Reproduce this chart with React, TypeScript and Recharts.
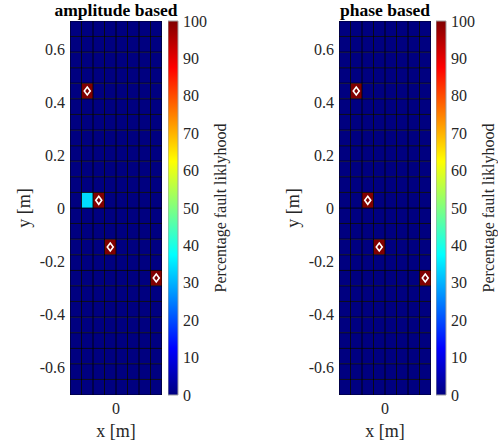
import { ComposedChart, XAxis, YAxis, ReferenceArea, ReferenceLine, Scatter, Bar } from 'recharts'

const xCenters = [-0.175, -0.125, -0.075, -0.025, 0.025, 0.075, 0.125, 0.175]
const yCenters = [
  0.676, 0.617, 0.558, 0.5, 0.441, 0.382, 0.323, 0.264, 0.206, 0.147, 0.088, 0.029,
  -0.029, -0.088, -0.147, -0.206, -0.264, -0.323, -0.382, -0.441, -0.5, -0.558, -0.617, -0.676,
]
const cellW = 0.05
const cellH = 0.05875

const xTicks = [0]
const yTicks = [-0.6, -0.4, -0.2, 0, 0.2, 0.4, 0.6]
const cbTicks = [0, 10, 20, 30, 40, 50, 60, 70, 80, 90, 100]
const cbData = [{ name: 'scale', value: 100 }]

// percentage per cell, rows top -> bottom, columns left -> right
const amplitudeValues = [
  [0, 0, 0, 0, 0, 0, 0, 0],
  [0, 0, 0, 0, 0, 0, 0, 0],
  [0, 0, 0, 0, 0, 0, 0, 0],
  [0, 0, 0, 0, 0, 0, 0, 0],
  [0, 100, 0, 0, 0, 0, 0, 0],
  [0, 0, 0, 0, 0, 0, 0, 0],
  [0, 0, 0, 0, 0, 0, 0, 0],
  [0, 0, 0, 0, 0, 0, 0, 0],
  [0, 0, 0, 0, 0, 0, 0, 0],
  [0, 0, 0, 0, 0, 0, 0, 0],
  [0, 0, 0, 0, 0, 0, 0, 0],
  [0, 34, 100, 0, 0, 0, 0, 0],
  [0, 0, 0, 0, 0, 0, 0, 0],
  [0, 0, 0, 0, 0, 0, 0, 0],
  [0, 0, 0, 100, 0, 0, 0, 0],
  [0, 0, 0, 0, 0, 0, 0, 0],
  [0, 0, 0, 0, 0, 0, 0, 100],
  [0, 0, 0, 0, 0, 0, 0, 0],
  [0, 0, 0, 0, 0, 0, 0, 0],
  [0, 0, 0, 0, 0, 0, 0, 0],
  [0, 0, 0, 0, 0, 0, 0, 0],
  [0, 0, 0, 0, 0, 0, 0, 0],
  [0, 0, 0, 0, 0, 0, 0, 0],
  [0, 0, 0, 0, 0, 0, 0, 0],
]

const phaseValues = [
  [0, 0, 0, 0, 0, 0, 0, 0],
  [0, 0, 0, 0, 0, 0, 0, 0],
  [0, 0, 0, 0, 0, 0, 0, 0],
  [0, 0, 0, 0, 0, 0, 0, 0],
  [0, 100, 0, 0, 0, 0, 0, 0],
  [0, 0, 0, 0, 0, 0, 0, 0],
  [0, 0, 0, 0, 0, 0, 0, 0],
  [0, 0, 0, 0, 0, 0, 0, 0],
  [0, 0, 0, 0, 0, 0, 0, 0],
  [0, 0, 0, 0, 0, 0, 0, 0],
  [0, 0, 0, 0, 0, 0, 0, 0],
  [0, 0, 100, 0, 0, 0, 0, 0],
  [0, 0, 0, 0, 0, 0, 0, 0],
  [0, 0, 0, 0, 0, 0, 0, 0],
  [0, 0, 0, 100, 0, 0, 0, 0],
  [0, 0, 0, 0, 0, 0, 0, 0],
  [0, 0, 0, 0, 0, 0, 0, 100],
  [0, 0, 0, 0, 0, 0, 0, 0],
  [0, 0, 0, 0, 0, 0, 0, 0],
  [0, 0, 0, 0, 0, 0, 0, 0],
  [0, 0, 0, 0, 0, 0, 0, 0],
  [0, 0, 0, 0, 0, 0, 0, 0],
  [0, 0, 0, 0, 0, 0, 0, 0],
  [0, 0, 0, 0, 0, 0, 0, 0],
]

// true fault positions (white diamonds)
const faultX = [-0.125, -0.075, -0.025, 0.175]
const faultY = [0.441, 0.029, -0.147, -0.264]

const FONT = "'Liberation Serif', 'Times New Roman', serif"
const TICK = { fontSize: 16, fill: '#262626', fontFamily: FONT }

const clamp = (v: number) => Math.max(0, Math.min(1, v))
function jet(v: number) {
  const t = v / 100
  const r = clamp(Math.min(4 * t - 1.5, -4 * t + 4.5))
  const g = clamp(Math.min(4 * t - 0.5, -4 * t + 3.5))
  const b = clamp(Math.min(4 * t + 0.5, -4 * t + 2.5))
  const h = (c: number) => Math.round(c * 255).toString(16).padStart(2, '0')
  return `#${h(r)}${h(g)}${h(b)}`
}
const jetStops = [0, 12.5, 37.5, 62.5, 87.5, 100]

// cell borders
const xEdges = [xCenters[0] - cellW / 2, ...xCenters.map((x) => x + cellW / 2)]
const yEdges = [yCenters[0] + cellH / 2, ...yCenters.map((y) => y - cellH / 2)]

const Diamond = (props: any) => {
  const { cx, cy } = props
  return (
    <path
      d={`M${cx},${cy - 4}L${cx + 3},${cy}L${cx},${cy + 4}L${cx - 3},${cy}Z`}
      fill="none"
      stroke="#fff"
      strokeWidth={1.6}
    />
  )
}

function Panel({ title, values, plotLeft, cbLeft, id }: { title: string; values: number[][]; plotLeft: number; cbLeft: number; id: string }) {
  const faults = faultX.map((x, i) => ({ x, y: faultY[i] }))
  return (
    <>
      <div style={{ position: 'absolute', left: plotLeft - 70, top: 0 }}>
        <ComposedChart width={210} height={448} margin={{ top: 0, right: 48, bottom: 0, left: 0 }}>
          <XAxis
            xAxisId="top"
            orientation="top"
            type="number"
            domain={[-0.2, 0.2]}
            height={21}
            tick={false}
            axisLine={false}
            tickLine={false}
            label={{
              content: (p: any) => {
                const vb = p.viewBox
                return (
                  <text x={vb.x + vb.width / 2} y={vb.y + 15.5} textAnchor="middle" fontFamily={FONT} fontSize={17.5} fontWeight="bold" fill="#000">
                    {title}
                  </text>
                )
              },
            }}
          />
          <XAxis
            dataKey="x"
            type="number"
            domain={[-0.2, 0.2]}
            ticks={xTicks}
            height={53}
            allowDataOverflow
            tick={TICK}
            tickSize={0}
            tickMargin={8}
            axisLine={false}
            tickLine={false}
            label={{
              content: (p: any) => {
                const vb = p.viewBox
                return (
                  <text x={vb.x + vb.width / 2} y={vb.y + 42} textAnchor="middle" fontFamily={FONT} fontSize={18} fill="#262626">
                    x [m]
                  </text>
                )
              },
            }}
          />
          <YAxis
            dataKey="y"
            type="number"
            domain={[-0.705, 0.705]}
            ticks={yTicks}
            width={70}
            allowDataOverflow
            tick={TICK}
            tickSize={0}
            tickMargin={5}
            axisLine={false}
            tickLine={false}
            tickFormatter={(v: number) => String(v)}
            label={{
              content: (p: any) => {
                const vb = p.viewBox
                const x = vb.x + 23.5
                const y = vb.y + vb.height / 2
                return (
                  <text x={x} y={y} transform={`rotate(-90 ${x} ${y})`} textAnchor="middle" dominantBaseline="central" fontFamily={FONT} fontSize={18} fill="#262626">
                    y [m]
                  </text>
                )
              },
            }}
          />
          {values.map((row, r) =>
            row.map((v, c) => (
              <ReferenceArea
                key={`${r}-${c}`}
                x1={xCenters[c] - cellW / 2}
                x2={xCenters[c] + cellW / 2}
                y1={yCenters[r] - cellH / 2}
                y2={yCenters[r] + cellH / 2}
                ifOverflow="hidden"
                fill={jet(v)}
                fillOpacity={1}
                stroke="none"
              />
            ))
          )}
          {xEdges.map((x) => (
            <ReferenceLine key={`vx${x}`} x={x} ifOverflow="hidden" stroke="#000" strokeWidth={1} strokeOpacity={0.85} />
          ))}
          {yEdges.map((y) => (
            <ReferenceLine key={`hy${y}`} y={y} ifOverflow="hidden" stroke="#000" strokeWidth={1} strokeOpacity={0.85} />
          ))}
          <Scatter data={faults} shape={<Diamond />} isAnimationActive={false} />
        </ComposedChart>
      </div>
      <div style={{ position: 'absolute', left: cbLeft, top: 0 }}>
        <ComposedChart width={70} height={448} data={cbData} barCategoryGap={0} margin={{ top: 21, right: 0, bottom: 53, left: 0 }}>
          <defs>
            <linearGradient id={id} x1="0" y1="1" x2="0" y2="0">
              {jetStops.map((s) => (
                <stop key={s} offset={`${s}%`} stopColor={jet(s)} />
              ))}
            </linearGradient>
          </defs>
          <XAxis dataKey="name" hide />
          <YAxis
            orientation="right"
            type="number"
            domain={[0, 100]}
            ticks={cbTicks}
            width={60}
            tick={TICK}
            tickSize={0}
            tickMargin={5}
            axisLine={false}
            tickLine={false}
            label={{
              content: (p: any) => {
                const vb = p.viewBox
                const x = vb.x + 42
                const y = vb.y + vb.height / 2
                return (
                  <text x={x} y={y} transform={`rotate(-90 ${x} ${y})`} textAnchor="middle" dominantBaseline="central" fontFamily={FONT} fontSize={16} fill="#262626">
                    Percentage fault liklyhood
                  </text>
                )
              },
            }}
          />
          <Bar dataKey="value" fill={`url(#${id})`} stroke="#a0a0a0" strokeWidth={1} isAnimationActive={false} />
        </ComposedChart>
      </div>
    </>
  )
}

export default function App() {
  return (
    <div style={{ position: 'absolute', left: 0, top: 0, width: 498, height: 448, overflow: 'hidden', background: '#fff' }}>
      <Panel title="amplitude based" values={amplitudeValues} plotLeft={70} cbLeft={168} id="jetA" />
      <Panel title="phase based" values={phaseValues} plotLeft={339} cbLeft={436} id="jetB" />
    </div>
  )
}
